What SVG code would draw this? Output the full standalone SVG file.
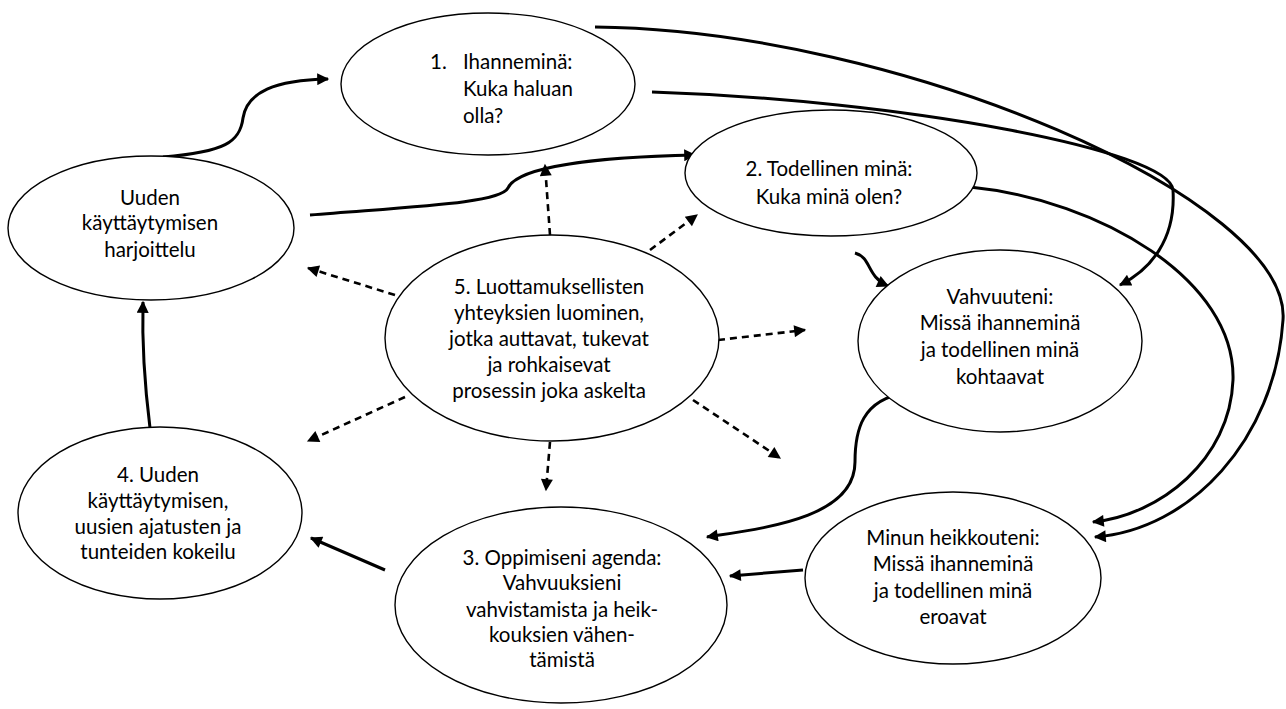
<svg xmlns="http://www.w3.org/2000/svg" width="1286" height="709" viewBox="0 0 1286 709">
<defs>
<style>
.node ellipse{fill:#fff;stroke:#000;stroke-width:1.4}
.node text{font-family:Lato,"Open Sans","Liberation Sans",sans-serif;font-size:20.5px;fill:#000}
.c text{text-anchor:middle}
.conn path{fill:none;stroke:#000;stroke-width:3}
.conn .d{stroke-width:2.6;stroke-dasharray:7,5}
</style>
<marker id="ah" viewBox="0 0 10 10" refX="9" refY="5" markerWidth="14" markerHeight="12" markerUnits="userSpaceOnUse" orient="auto">
<path d="M0,0 L10,5 L0,10 z" fill="#000"/>
</marker>
</defs>
<rect width="1286" height="709" fill="#fff"/>
<g id="connectors" class="conn">
<path d="M163,157 C225,152 240,142 243,118 C247,92 275,80 328,79" marker-end="url(#ah)"/>
<path d="M310,215 C420,206 500,203 508,188 C518,166 600,157 695,155" marker-end="url(#ah)"/>
<path d="M595,27 C900,30 1292,200 1283,320 C1275,440 1190,530 1095,537" marker-end="url(#ah)"/>
<path d="M652,92 C900,100 1170,150 1173,190 C1176,240 1150,270 1120,285" marker-end="url(#ah)"/>
<path d="M970,187 C1100,200 1236,280 1233,380 C1230,460 1160,515 1093,522" marker-end="url(#ah)"/>
<path d="M855,253 C872,258 866,276 888,286" marker-end="url(#ah)"/>
<path d="M905,393 C862,400 855,430 855,462 C855,518 765,528 707,537" marker-end="url(#ah)"/>
<path d="M803,570 L730,576" marker-end="url(#ah)"/>
<path d="M385,570 L311,538" marker-end="url(#ah)"/>
<path d="M150,428 C144,380 142,340 143,302" marker-end="url(#ah)"/>
<path class="d" d="M550,235 L545,165" marker-end="url(#ah)"/>
<path class="d" d="M650,250 L697,215" marker-end="url(#ah)"/>
<path class="d" d="M718,340 L805,330" marker-end="url(#ah)"/>
<path class="d" d="M693,400 L780,458" marker-end="url(#ah)"/>
<path class="d" d="M550,442 L546,490" marker-end="url(#ah)"/>
<path class="d" d="M405,397 L308,441" marker-end="url(#ah)"/>
<path class="d" d="M395,295 L308,268" marker-end="url(#ah)"/>
</g>
<g id="n1" class="node">
<ellipse cx="488" cy="84" rx="147" ry="71"/>
<text x="430" y="69">1.</text>
<text x="463" y="69">Ihanneminä:</text>
<text x="463" y="96">Kuka haluan</text>
<text x="463" y="123">olla?</text>
</g>
<g id="n2" class="node c">
<ellipse cx="831" cy="173" rx="146" ry="63"/>
<text x="829" y="176">2. Todellinen minä:</text>
<text x="829" y="204">Kuka minä olen?</text>
</g>
<g id="n5" class="node c">
<ellipse cx="552" cy="338" rx="167" ry="103"/>
<text x="549" y="294">5. Luottamuksellisten</text>
<text x="549" y="320">yhteyksien luominen,</text>
<text x="549" y="346">jotka auttavat, tukevat</text>
<text x="549" y="372">ja rohkaisevat</text>
<text x="549" y="398">prosessin joka askelta</text>
</g>
<g id="nv" class="node c">
<ellipse cx="1000" cy="341" rx="142" ry="91"/>
<text x="1000" y="304">Vahvuuteni:</text>
<text x="1000" y="330">Missä ihanneminä</text>
<text x="1000" y="357">ja todellinen minä</text>
<text x="1000" y="384">kohtaavat</text>
</g>
<g id="nh" class="node c">
<ellipse cx="953" cy="578" rx="148" ry="86"/>
<text x="953" y="545">Minun heikkouteni:</text>
<text x="953" y="571">Missä ihanneminä</text>
<text x="953" y="598">ja todellinen minä</text>
<text x="953" y="624">eroavat</text>
</g>
<g id="n3" class="node c">
<ellipse cx="561" cy="605" rx="166" ry="98"/>
<text x="562" y="565">3. Oppimiseni agenda:</text>
<text x="562" y="590">Vahvuuksieni</text>
<text x="562" y="617">vahvistamista ja heik-</text>
<text x="562" y="642">kouksien vähen-</text>
<text x="562" y="667">tämistä</text>
</g>
<g id="nu" class="node c">
<ellipse cx="151" cy="228" rx="143" ry="72"/>
<text x="150" y="205">Uuden</text>
<text x="150" y="230">käyttäytymisen</text>
<text x="150" y="257">harjoittelu</text>
</g>
<g id="n4" class="node c">
<ellipse cx="160" cy="513" rx="142" ry="86"/>
<text x="158" y="482">4. Uuden</text>
<text x="158" y="508">käyttäytymisen,</text>
<text x="158" y="534">uusien ajatusten ja</text>
<text x="158" y="559">tunteiden kokeilu</text>
</g>
</svg>
